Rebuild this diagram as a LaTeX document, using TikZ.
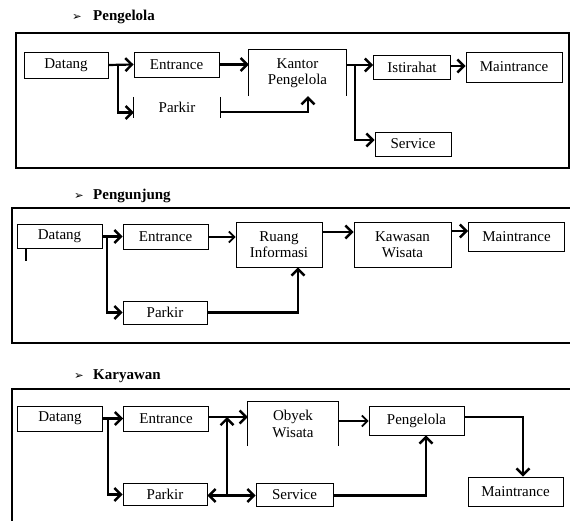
\documentclass[tikz,border=0pt]{standalone}
\usepackage{fontspec}
\setmainfont{Liberation Serif}
\newfontfamily\dejavu{DejaVu Sans}
\usetikzlibrary{arrows.meta,calc}
\tikzset{
  box/.style={draw, line width=0.9pt, inner sep=0pt, align=center, font=\fontsize{15}{16.5}\selectfont},
  openbox/.style={draw=none, inner sep=0pt, align=center, font=\fontsize{15}{16.5}\selectfont},
  side/.style={line width=0.9pt},
  frame/.style={draw, line width=2pt},
  tip/.tip={Straight Barb[length=6.5pt,width=13pt,line width=2.4pt]},
  smalltip/.tip={Straight Barb[length=5.5pt,width=11pt,line width=1.8pt]},
  arr/.style={line width=2.2pt, -tip},
  thinarr/.style={line width=1.4pt, -smalltip},
  dblarr/.style={line width=2.2pt, tip-tip},
  ttl/.style={anchor=west, inner sep=0pt, font=\fontsize{15}{17}\selectfont\bfseries},
  bullet/.style={anchor=west, inner sep=0pt, font=\dejavu\fontsize{11.5}{12}\selectfont}
}
\begin{document}
\begin{tikzpicture}[x=1pt,y=-1pt]
\useasboundingbox (0,0) rectangle (570,521);
\clip (0,0) rectangle (570,521);
\fill[white] (0,0) rectangle (570,521);

% ---------- Pengelola ----------
\node[bullet] (b1) at (72,17) {➢};
\node[ttl] (t1) at (93,17) {Pengelola};
\draw[frame] (16,33) rectangle (569,168);

\node[box, minimum width=84pt, minimum height=26pt] (d1) at (66,65) {Datang};
\node[box, minimum width=85pt, minimum height=25pt] (e1) at (176.5,64.5) {Entrance};
\node[openbox, minimum width=97pt, minimum height=46pt] (k1) at (297.5,73) {Kantor\\Pengelola};
\draw[side] (k1.south west) -- (k1.north west) -- (k1.north east) -- (k1.south east);
\node[openbox, minimum width=86pt, minimum height=21pt] (p1) at (177,107.5) {Parkir};
\draw[side] (p1.north west) -- (p1.south west) (p1.north east) -- (p1.south east);
\node[box, minimum width=77pt, minimum height=24pt] (i1) at (412,67) {Istirahat};
\node[box, minimum width=96pt, minimum height=30pt] (m1) at (514,67) {Maintrance};
\node[box, minimum width=76pt, minimum height=24pt] (s1) at (413,144) {Service};

\draw[arr] (d1.east) -- (e1.west);
\draw[arr] (118,65) |- ($(p1.west)+(0,5)$);
\draw[arr] (e1.east) -- (e1.east -| k1.west);
\draw[arr] ($(p1.east)+(0,4.5)$) -| ($(k1.south)+(10.5,0)$);
\draw[arr] (k1.east |- 0,65) -- (i1.west |- 0,65);
\draw[arr] (355,65) |- ($(s1.west)+(0,-4)$);
\draw[arr] (i1.east |- 0,66) -- (m1.west |- 0,66);

% ---------- Pengunjung ----------
\node[bullet] (b2) at (74,196) {➢};
\node[ttl] (t2) at (93,196) {Pengunjung};
\draw[frame] (12,208) rectangle (585,343);

\node[box, minimum width=85pt, minimum height=24pt] (d2) at (59.5,236.5) {Datang};
\node[box, minimum width=85pt, minimum height=25pt] (e2) at (165.5,237) {Entrance};
\node[box, minimum width=86pt, minimum height=45pt] (r2) at (279,244.5) {Ruang\\Informasi};
\node[box, minimum width=97pt, minimum height=45pt] (k2) at (402.5,244.5) {Kawasan\\Wisata};
\node[box, minimum width=96pt, minimum height=29pt] (m2) at (516.5,236.5) {Maintrance};
\node[box, minimum width=84pt, minimum height=23pt] (p2) at (165,312.5) {Parkir};
\draw[line width=1.5pt] (26,248) -- (26,261);

\draw[arr] (d2.east) -- (e2.west |- d2.east);
\draw[arr] (107,236.5) |- (p2.west);
\draw[thinarr] (e2.east) -- (e2.east -| r2.west);
\draw[arr] ($(r2.east)+(0,-12.5)$) -- ($(k2.west)+(0,-12.5)$);
\draw[arr] ($(k2.east)+(0,-13.5)$) -- (m2.west |- 0,231);
\draw[arr] (p2.east) -| ($(r2.south)+(19,0)$);

% ---------- Karyawan ----------
\node[bullet] (b3) at (74,376) {➢};
\node[ttl] (t3) at (93,376) {Karyawan};
\draw[frame] (12,389) rectangle (585,540);

\node[box, minimum width=85pt, minimum height=25pt] (d3) at (60,418.5) {Datang};
\node[box, minimum width=85pt, minimum height=25pt] (e3) at (166,418.5) {Entrance};
\node[openbox, minimum width=90pt, minimum height=44pt] (o3) at (293,424) {Obyek\\Wisata};
\draw[side] (o3.south west) -- (o3.north west) -- (o3.north east) -- (o3.south east);
\node[box, minimum width=95pt, minimum height=29pt] (g3) at (416.5,420.5) {Pengelola};
\node[box, minimum width=95pt, minimum height=29pt] (m3) at (515.5,491.5) {Maintrance};
\node[box, minimum width=84pt, minimum height=22pt] (p3) at (165,494.5) {Parkir};
\node[box, minimum width=77pt, minimum height=23pt] (s3) at (294.5,494.5) {Service};
\coordinate (j3) at (227,495.5);

\draw[arr] (d3.east) -- (e3.west);
\draw[arr] (108,418.5) |- (p3.west);
\draw[arr] (e3.east |- 0,417) -- (o3.west |- 0,417);
\draw[arr] (j3) -- (j3 |- 0,417);
\draw[dblarr] (p3.east |- j3) -- (s3.west |- j3);
\draw[thinarr] (o3.east |- 0,421) -- (g3.west |- 0,421);
\draw[arr] (s3.east |- j3) -| ($(g3.south)+(9.5,0)$);
\draw[arr] (g3.east |- 0,417) -| ($(m3.north)+(7.5,0)$);
\end{tikzpicture}
\end{document}
